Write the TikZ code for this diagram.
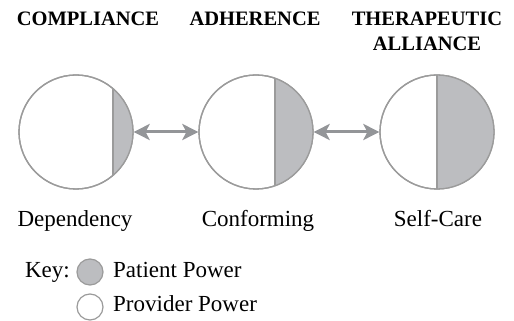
\documentclass[tikz,border=0pt]{standalone}
\usepackage{fontspec}
\setmainfont{Liberation Serif}
\usetikzlibrary{positioning, arrows.meta}
\definecolor{patgray}{HTML}{BCBDC0}
\definecolor{rimgray}{HTML}{9B9B9B}
\definecolor{arrgray}{HTML}{939598}

\begin{document}
\begin{tikzpicture}[x=1pt, y=1pt,
      every node/.style={inner sep=0pt},
      title/.style={font=\fontsize{20.5}{25}\selectfont\bfseries, align=center, anchor=north},
      stage/.style={draw=rimgray, line width=1.3pt, circle, minimum size=114pt, fill=white},
      caption/.style={font=\fontsize{23}{27}\selectfont, anchor=base},
      keydot/.style={draw=rimgray, line width=1.2pt, circle, minimum size=26pt},
      link/.style={{Stealth[length=16pt, width=16pt, inset=4pt]}-{Stealth[length=16pt, width=16pt, inset=4pt]}, line width=3pt, arrgray},
    ]
    \useasboundingbox[fill=white] (0,0) rectangle (514,321);

    % Headings
    \node[title] (hcomp) at (88,309) {COMPLIANCE};
    \node[title] (hadh) at (255,309) {ADHERENCE};
    \node[title] (hther) at (427,309) {THERAPEUTIC\\ALLIANCE};

    % Power circles
    \node[stage] (c1) at (76,189) {};
    \node[stage] (c2) at (256,189) {};
    \node[stage] (c3) at (437,189) {};
    \foreach \n/\d in {c1/37, c2/19, c3/0} {
      \begin{scope}
        \clip (\n.center) circle (57pt);
        \fill[patgray] ([xshift=\d pt, yshift=-60pt]\n.center) rectangle ([xshift=60pt, yshift=60pt]\n.center);
        \draw[rimgray, line width=1.2pt] ([xshift=\d pt, yshift=-60pt]\n.center) -- ([xshift=\d pt, yshift=60pt]\n.center);
      \end{scope}
      \draw[rimgray, line width=1.3pt] (\n.center) circle (57pt);
    }

    % Arrows
    \draw[link] (c1) -- (c2);
    \draw[link] (c2) -- (c3);

    % Captions
    \node[caption] (ldep) at (75,94) {Dependency};
    \node[caption] (lconf) at (258,94) {Conforming};
    \node[caption] (lself) at (438,94) {Self-Care};

    % Key
    \node[caption, anchor=base east] (key) at (70,43) {Key:};
    \node[keydot, fill=patgray] (kpat) at (90,49) {};
    \node[keydot, fill=white] (kprov) at (90,14) {};
    \node[caption, anchor=base west] (tpat) at (113,43) {Patient Power};
    \node[caption, anchor=base west] (tprov) at (113,9) {Provider Power};
  \end{tikzpicture}
\end{document}
